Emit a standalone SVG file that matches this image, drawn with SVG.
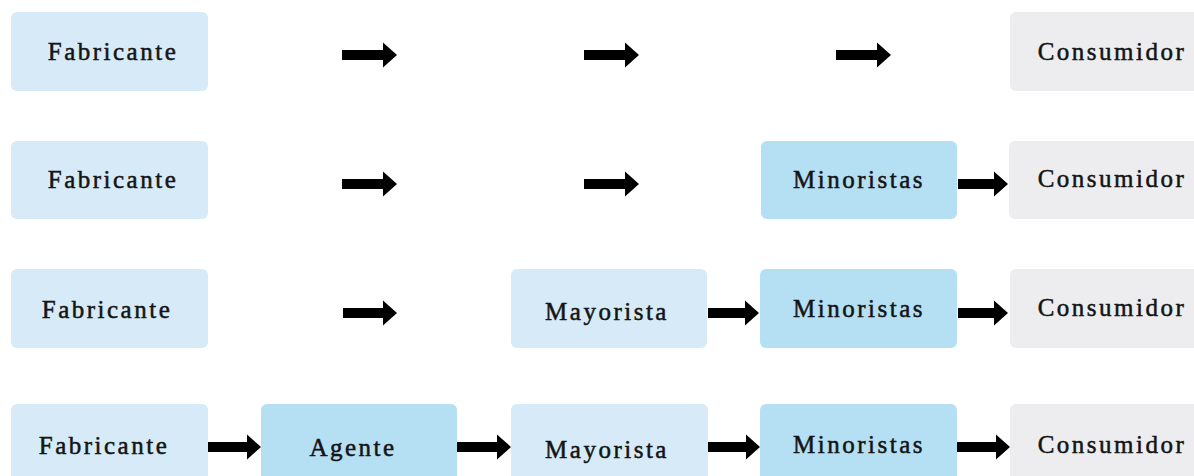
<svg xmlns="http://www.w3.org/2000/svg" width="1194" height="476" viewBox="0 0 1194 476">
  <style>
    .box { stroke: none; }
    .maker { fill: #d6ebf7; }
    .mid { fill: #b5dff3; }
    .buyer { fill: #ededef; }
    .lbl { font-family: "Liberation Serif", "Times New Roman", serif; font-size: 25px; font-weight: normal; fill: #141414; stroke: #141414; stroke-width: 0.5px; text-anchor: middle; letter-spacing: 2.5px; }
    .arrow { fill: #000; }
  </style>
  <rect width="1194" height="476" fill="#ffffff"/>

  <!-- Row 1: direct channel -->
  <g id="r1-fabricante"><rect class="box maker" x="11" y="12" width="197" height="79" rx="6"/><text class="lbl" x="113" y="60">Fabricante</text></g>
  <g id="r1-consumidor"><rect class="box buyer" x="1010" y="12" width="197" height="79" rx="6"/><text class="lbl" x="1112" y="60">Consumidor</text></g>

  <!-- Row 2: via retailers -->
  <g id="r2-fabricante"><rect class="box maker" x="11" y="141" width="197" height="78" rx="6"/><text class="lbl" x="113" y="188">Fabricante</text></g>
  <g id="r2-minoristas"><rect class="box mid" x="761" y="141" width="196" height="78" rx="6"/><text class="lbl" x="859" y="188">Minoristas</text></g>
  <g id="r2-consumidor"><rect class="box buyer" x="1009" y="141" width="197" height="78" rx="6"/><text class="lbl" x="1112" y="187">Consumidor</text></g>

  <!-- Row 3: via wholesaler and retailers -->
  <g id="r3-fabricante"><rect class="box maker" x="11" y="269" width="197" height="79" rx="6"/><text class="lbl" x="107" y="318">Fabricante</text></g>
  <g id="r3-mayorista"><rect class="box maker" x="511" y="269" width="196" height="79" rx="6"/><text class="lbl" x="607" y="320">Mayorista</text></g>
  <g id="r3-minoristas"><rect class="box mid" x="760" y="269" width="197" height="79" rx="6"/><text class="lbl" x="859" y="317">Minoristas</text></g>
  <g id="r3-consumidor"><rect class="box buyer" x="1010" y="269" width="197" height="79" rx="6"/><text class="lbl" x="1112" y="316">Consumidor</text></g>

  <!-- Row 4: via agent, wholesaler and retailers -->
  <g id="r4-fabricante"><rect class="box maker" x="11" y="404" width="197" height="80" rx="6"/><text class="lbl" x="104" y="454">Fabricante</text></g>
  <g id="r4-agente"><rect class="box mid" x="261" y="404" width="196" height="80" rx="6"/><text class="lbl" x="353" y="456">Agente</text></g>
  <g id="r4-mayorista"><rect class="box maker" x="511" y="404" width="197" height="80" rx="6"/><text class="lbl" x="607" y="458">Mayorista</text></g>
  <g id="r4-minoristas"><rect class="box mid" x="760" y="404" width="197" height="80" rx="6"/><text class="lbl" x="859" y="453">Minoristas</text></g>
  <g id="r4-consumidor"><rect class="box buyer" x="1010" y="404" width="197" height="80" rx="6"/><text class="lbl" x="1112" y="453">Consumidor</text></g>

  <!-- Block arrows: shaft 10px, head 25px tall x 14px long -->
  <g id="connectors" class="arrow">
    <path d="M342 50H383V42.5L397 55L383 67.5V60H342Z"/>
    <path d="M584 50H625V42.5L639 55L625 67.5V60H584Z"/>
    <path d="M836 50H877V42.5L891 55L877 67.5V60H836Z"/>

    <path d="M342 179H383V171.5L397 184L383 196.5V189H342Z"/>
    <path d="M584 179H625V171.5L639 184L625 196.5V189H584Z"/>
    <path d="M958 179H994V171.5L1008 184L994 196.5V189H958Z"/>

    <path d="M343 308H383V300.5L397 313L383 325.5V318H343Z"/>
    <path d="M708 308H745V300.5L759 313L745 325.5V318H708Z"/>
    <path d="M958 308H994V300.5L1008 313L994 325.5V318H958Z"/>

    <path d="M208 442H247V434.5L261 447L247 459.5V452H208Z"/>
    <path d="M457 442H497V434.5L511 447L497 459.5V452H457Z"/>
    <path d="M708 442H746V434.5L760 447L746 459.5V452H708Z"/>
    <path d="M957 442H996V434.5L1010 447L996 459.5V452H957Z"/>
  </g>
</svg>
